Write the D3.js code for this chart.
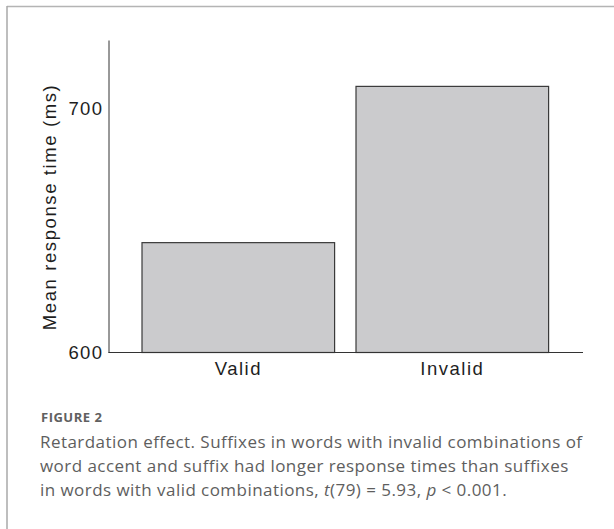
<!DOCTYPE html>
<html>
<head>
<meta charset="utf-8">
<script src="https://cdn.jsdelivr.net/npm/d3@7"></script>
<style>
  body { margin: 0; background: #fff; }
</style>
</head>
<body>
<div id="chart"></div>
<script>
// data
const categories = ["Valid", "Invalid"];
const meanRT = [645, 709];
const yTicks = [600, 700];
const yDomain = [600, 728];
const captionTitle = "FIGURE 2";
const captionLines = [
  "Retardation effect. Suffixes in words with invalid combinations of",
  "word accent and suffix had longer response times than suffixes",
  "in words with valid combinations, <i>t</i>(79) = 5.93, <i>p</i> &lt; 0.001."
];

const W = 614, H = 529;
const svg = d3.select("#chart").append("svg")
  .attr("width", W).attr("height", H);

// card border (top + left)
svg.append("line").attr("x1", 7).attr("y1", 6.5).attr("x2", W).attr("y2", 6.5)
  .attr("stroke", "#b4b4b4").attr("stroke-width", 1.5);
svg.append("line").attr("x1", 7).attr("y1", 6).attr("x2", 7).attr("y2", H)
  .attr("stroke", "#a8a8a8").attr("stroke-width", 1.5);

const plot = { left: 108.5, right: 583, top: 40, bottom: 352.5 };

const x = d3.scaleBand()
  .domain(categories)
  .range([131.3, 559.3])
  .paddingInner(0.1)
  .paddingOuter(0.05);

const y = d3.scaleLinear()
  .domain(yDomain)
  .range([plot.bottom, plot.top]);

const chartFont = "'Liberation Sans', Arial, Helvetica, sans-serif";

// bars
svg.append("g").selectAll("rect")
  .data(categories)
  .enter().append("rect")
  .attr("x", d => x(d))
  .attr("width", x.bandwidth())
  .attr("y", (d, i) => y(meanRT[i]))
  .attr("height", (d, i) => y(yDomain[0]) - y(meanRT[i]))
  .attr("fill", "#cbcbcd")
  .attr("stroke", "#3a3a3a")
  .attr("stroke-width", 1.2);

// y axis
const yAxis = svg.append("g")
  .attr("transform", "translate(" + plot.left + ",0)")
  .call(d3.axisLeft(y).tickValues(yTicks).tickSize(0).tickPadding(5));
yAxis.select(".domain").attr("stroke", "#333").attr("stroke-width", 1);
yAxis.selectAll("text")
  .style("font-family", chartFont)
  .style("font-size", "18.5px")
  .style("letter-spacing", "1.4px")
  .attr("fill", "#1e1e1e");

// x axis
const xAxis = svg.append("g")
  .attr("transform", "translate(0," + plot.bottom + ")");
xAxis.append("line")
  .attr("x1", plot.left).attr("x2", plot.right)
  .attr("stroke", "#333").attr("stroke-width", 1);
xAxis.call(d3.axisBottom(x).tickSize(0).tickPadding(9));
xAxis.select(".domain").remove();
xAxis.selectAll("text")
  .style("font-family", chartFont)
  .style("font-size", "18.5px")
  .style("letter-spacing", "1.5px")
  .attr("fill", "#1e1e1e");

// y label
svg.append("text")
  .attr("transform", "translate(56," + 207 + ") rotate(-90)")
  .attr("text-anchor", "middle")
  .style("font-family", chartFont)
  .style("font-size", "18.5px")
  .style("letter-spacing", "1.6px")
  .attr("fill", "#1e1e1e")
  .text("Mean response time (ms)");

// caption
const capFont = "'Open Sans', Lato, sans-serif";
svg.append("text")
  .attr("x", 41).attr("y", 421.5)
  .style("font-family", capFont)
  .style("font-size", "13px")
  .style("font-weight", "bold")
  .style("letter-spacing", "0.5px")
  .attr("fill", "#606060")
  .text(captionTitle);

svg.append("g").selectAll("text")
  .data(captionLines)
  .enter().append("text")
  .attr("x", 40)
  .attr("y", (d, i) => 447.5 + i * 24)
  .style("font-family", capFont)
  .style("font-size", "17px")
  .style("letter-spacing", "0.45px")
  .attr("fill", "#5e5e5e")
  .html(d => d.replace(/<i>(.*?)<\/i>/g, "<tspan font-style='italic'>$1</tspan>"));
</script>
</body>
</html>
